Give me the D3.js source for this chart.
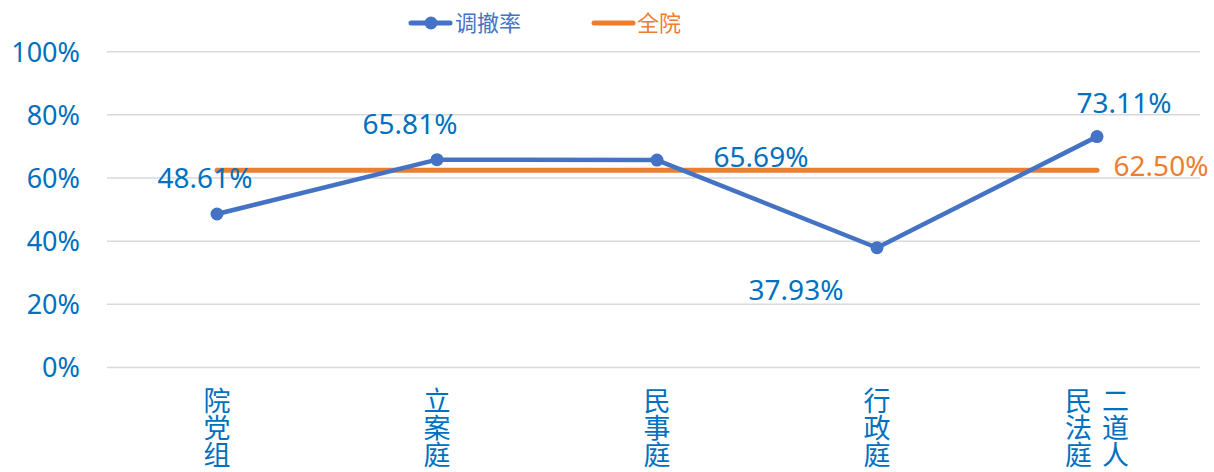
<!DOCTYPE html>
<html><head><meta charset="utf-8">
<script src="https://cdn.jsdelivr.net/npm/d3@7"></script>
<style>body{margin:0;background:#fff}svg{display:block}</style>
</head><body>
<svg id="c" width="1214" height="472"></svg>
<script>
const categories = ["院党组","立案庭","民事庭","行政庭","二道人民法庭"];
const rates = [0.4861, 0.6581, 0.6569, 0.3793, 0.7311];
const overall = [0.625, 0.625, 0.625, 0.625, 0.625];
const yTicks = [0, 0.2, 0.4, 0.6, 0.8, 1.0];
const seriesNames = ["调撤率","全院"];

const svg = d3.select("#c");
const BLUE = "#4472C4", ORANGE = "#ED7D31", TXT = "#0070C0";
const numFont = "'Noto Sans','Open Sans',sans-serif";
const cjkFont = "'Noto Sans CJK SC','Noto Sans',sans-serif";

const x = d3.scaleBand().domain(categories).range([107, 1207]);
const y = d3.scaleLinear().domain([0, 1]).range([367.5, 51.7]);
const cx = d => x(d) + x.bandwidth() / 2;

// grid
svg.append("g").selectAll("line").data(yTicks).join("line")
  .attr("x1", 107).attr("x2", 1200)
  .attr("y1", d => y(d)).attr("y2", d => y(d))
  .attr("stroke", "#d9d9d9").attr("stroke-width", 1.5);

// y axis labels
const yAxis = d3.axisLeft(y).tickValues(yTicks).tickFormat(d3.format(".0%")).tickSize(0).tickPadding(0);
const ya = svg.append("g").attr("transform", "translate(80,0)").call(yAxis);
ya.select(".domain").remove();
ya.selectAll("text").attr("fill", TXT).style("font-family", numFont).style("font-size", "27px").attr("dy", "0.35em");

// x labels (vertical text, columns right-to-left, 3 chars per column)
categories.forEach(c => {
  const chars = Array.from(c);
  const cols = [];
  for (let i = 0; i < chars.length; i += 3) cols.push(chars.slice(i, i + 3).join(""));
  const n = cols.length, colW = 37;
  cols.forEach((col, ci) => {
    const xx = cx(c) + ((n - 1) / 2 - ci) * colW;
    svg.append("text").attr("x", xx).attr("y", 387)
      .attr("fill", TXT)
      .style("writing-mode", "vertical-rl").style("text-orientation", "upright")
      .style("font-family", cjkFont).style("font-size", "27px").text(col);
  });
});

// orange overall line
const line = d3.line().x((d, i) => cx(categories[i])).y(d => y(d));
svg.append("path").datum(overall).attr("d", line)
  .attr("fill", "none").attr("stroke", ORANGE).attr("stroke-width", 5).attr("stroke-linecap", "round");

// blue line
svg.append("path").datum(rates).attr("d", line)
  .attr("fill", "none").attr("stroke", BLUE).attr("stroke-width", 4.5).attr("stroke-linejoin", "round");
svg.append("g").selectAll("circle").data(rates).join("circle")
  .attr("cx", (d, i) => cx(categories[i])).attr("cy", d => y(d)).attr("r", 6.5).attr("fill", BLUE);

// data labels
const fmt = d3.format(".2%");
const offs = [[-12, -36], [-27, -35], [104, -3], [-81, 42], [27, -33]];
svg.append("g").selectAll("text").data(rates).join("text")
  .attr("x", (d, i) => cx(categories[i]) + offs[i][0])
  .attr("y", (d, i) => y(d) + offs[i][1])
  .attr("dy", "0.35em").attr("text-anchor", "middle").attr("fill", TXT)
  .style("font-family", numFont).style("font-size", "28px").text(d => fmt(d));
svg.append("text").attr("x", cx(categories[4]) + 64).attr("y", y(overall[4]) - 4)
  .attr("dy", "0.35em").attr("text-anchor", "middle").attr("fill", ORANGE)
  .style("font-family", numFont).style("font-size", "28px").text(fmt(overall[4]));

// legend
const lg = svg.append("g");
lg.append("line").attr("x1", 411).attr("x2", 450).attr("y1", 23).attr("y2", 23)
  .attr("stroke", BLUE).attr("stroke-width", 5).attr("stroke-linecap", "round");
lg.append("circle").attr("cx", 431).attr("cy", 23).attr("r", 6.5).attr("fill", BLUE);
lg.append("text").attr("x", 455).attr("y", 23).attr("dy", "0.36em").attr("fill", BLUE)
  .style("font-family", cjkFont).style("font-size", "22px").text(seriesNames[0]);
lg.append("line").attr("x1", 594).attr("x2", 633).attr("y1", 23).attr("y2", 23)
  .attr("stroke", ORANGE).attr("stroke-width", 5).attr("stroke-linecap", "round");
lg.append("text").attr("x", 637).attr("y", 23).attr("dy", "0.36em").attr("fill", ORANGE)
  .style("font-family", cjkFont).style("font-size", "22px").text(seriesNames[1]);
</script>
</body></html>
